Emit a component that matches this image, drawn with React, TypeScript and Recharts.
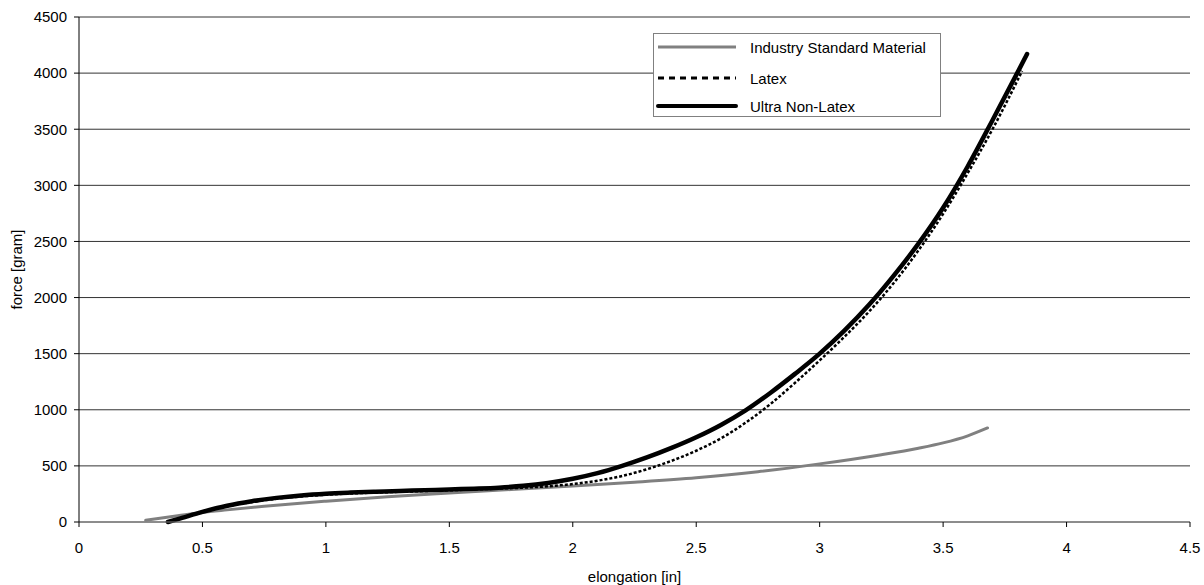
import { LineChart, Line, XAxis, YAxis, CartesianGrid } from "recharts";

const industryX = [0.27, 0.4, 0.5, 0.6, 0.75, 1.0, 1.25, 1.5, 1.75, 2.0, 2.25, 2.5, 2.75, 3.0, 3.25, 3.4, 3.5, 3.6, 3.68];
const industryY = [15, 55, 85, 108, 140, 185, 225, 258, 290, 320, 355, 395, 448, 518, 600, 658, 705, 768, 838];

const latexX = [0.36, 0.4, 0.5, 0.6, 0.7, 0.8, 0.9, 1.0, 1.1, 1.2, 1.3, 1.4, 1.5, 1.6, 1.7, 1.8, 1.9, 2.0, 2.1, 2.2, 2.3, 2.4, 2.5, 2.6, 2.7, 2.8, 2.9, 3.0, 3.1, 3.2, 3.3, 3.4, 3.5, 3.6, 3.7, 3.8, 3.82];
const latexY = [0, 25, 88, 140, 178, 207, 228, 243, 254, 262, 269, 276, 283, 290, 298, 306, 318, 338, 368, 410, 470, 545, 635, 745, 885, 1050, 1240, 1440, 1650, 1875, 2130, 2420, 2745, 3110, 3500, 3930, 4020];

const ultraX = [0.36, 0.4, 0.5, 0.6, 0.7, 0.8, 0.9, 1.0, 1.1, 1.2, 1.3, 1.4, 1.5, 1.6, 1.7, 1.8, 1.9, 2.0, 2.1, 2.2, 2.3, 2.4, 2.5, 2.6, 2.7, 2.8, 2.9, 3.0, 3.1, 3.2, 3.3, 3.4, 3.5, 3.6, 3.7, 3.8, 3.84];
const ultraY = [0, 25, 90, 145, 185, 215, 237, 252, 262, 270, 277, 283, 290, 297, 306, 322, 348, 385, 435, 500, 575, 660, 755, 865, 995, 1150, 1320, 1500, 1705, 1935, 2195, 2480, 2800, 3170, 3580, 4000, 4170];

const xTicks = [0, 0.5, 1, 1.5, 2, 2.5, 3, 3.5, 4, 4.5];
const yTicks = [0, 500, 1000, 1500, 2000, 2500, 3000, 3500, 4000, 4500];

const zip = (xs: number[], ys: number[]) => xs.map((x, i) => ({ x, y: ys[i] }));

const series = [
  { name: "Industry Standard Material", data: zip(industryX, industryY), color: "#808080", width: 3, dash: undefined, cap: "round", legendW: 3, legendDash: undefined, legendCap: "butt" },
  { name: "Latex", data: zip(latexX, latexY), color: "#000000", width: 2.5, dash: "3 2", cap: "butt", legendW: 3, legendDash: "6 5", legendCap: "butt" },
  { name: "Ultra Non-Latex", data: zip(ultraX, ultraY), color: "#000000", width: 4.5, dash: undefined, cap: "round", legendW: 4, legendDash: undefined, legendCap: "round" },
];

const font = "'Liberation Sans', Arial, sans-serif";
const rowTops = [13, 44, 72];

function LegendBox() {
  return (
    <div
      style={{
        position: "absolute",
        left: 653,
        top: 33,
        width: 288,
        height: 84,
        boxSizing: "border-box",
        border: "1px solid #808080",
        background: "#fff",
        fontFamily: font,
        fontSize: 15,
        color: "#000",
      }}
    >
      {series.map((s, i) => (
        <div
          key={s.name}
          style={{ position: "absolute", left: 0, top: rowTops[i] - 10, height: 20, display: "flex", alignItems: "center" }}
        >
          <svg width={96} height={10}>
            <line
              x1={4}
              y1={5}
              x2={82}
              y2={5}
              stroke={s.color}
              strokeWidth={s.legendW}
              strokeDasharray={s.legendDash}
              strokeLinecap={s.legendCap as any}
            />
          </svg>
          <span>{s.name}</span>
        </div>
      ))}
    </div>
  );
}

export default function App() {
  return (
    <div style={{ position: "absolute", left: 0, top: 0, width: 1204, height: 585, background: "#fff" }}>
      <LineChart width={1204} height={585} margin={{ top: 17, right: 14, bottom: 0, left: 0 }}>
        <CartesianGrid horizontal vertical={false} stroke="#333" strokeOpacity={1} />
        <XAxis
          type="number"
          dataKey="x"
          domain={[0, 4.5]}
          ticks={xTicks}
          allowDataOverflow
          height={63}
          stroke="#808080"
          tickLine={{ stroke: "#000" }}
          tickSize={5}
          tickMargin={15}
          tick={{ fill: "#000", fontSize: 15, fontFamily: font }}
          label={{ value: "elongation [in]", position: "insideBottom", offset: 3, fill: "#000", fontSize: 15, fontFamily: font }}
        />
        <YAxis
          type="number"
          dataKey="y"
          domain={[0, 4500]}
          ticks={yTicks}
          width={79}
          stroke="#000"
          tickSize={5}
          tickMargin={7}
          tick={{ fill: "#000", fontSize: 15, fontFamily: font }}
          label={{ value: "force [gram]", angle: -90, position: "insideLeft", offset: 17, fill: "#000", fontSize: 15, fontFamily: font, style: { textAnchor: "middle" } }}
        />
        {series.map((s) => (
          <Line
            key={s.name}
            data={s.data}
            dataKey="y"
            name={s.name}
            type="monotone"
            stroke={s.color}
            strokeWidth={s.width}
            strokeDasharray={s.dash}
            strokeLinecap={s.cap as any}
            dot={false}
            activeDot={false}
            isAnimationActive={false}
          />
        ))}
      </LineChart>
      <LegendBox />
    </div>
  );
}
